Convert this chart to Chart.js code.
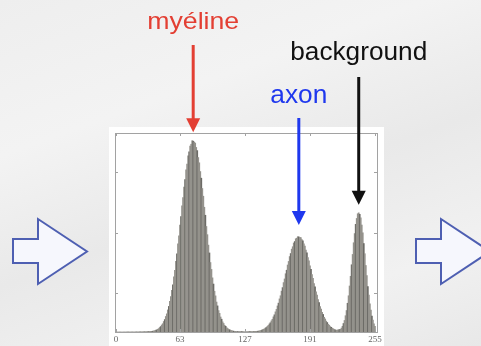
<!DOCTYPE html>
<html>
<head>
<meta charset="utf-8">
<script src="https://cdn.jsdelivr.net/npm/chart.js@4/dist/chart.umd.min.js"></script>
<style>
    html, body { margin: 0; padding: 0; overflow: hidden; }
    body {
        width: 481px; height: 346px;
        background: linear-gradient(160deg, #eeeeee 0%, #f3f3f3 30%, #e9e9e9 55%, #f1f1f1 80%, #e8e8e8 100%);
    }
    #wrap { position: relative; width: 481px; height: 346px; }
</style>
</head>
<body>
<div id="wrap"><canvas id="histo"></canvas></div>
<script>
// grey level histogram (0..255), counts
const counts = [
    0, 0, 0, 0, 0, 0, 0, 0, 0, 0, 0, 0, 0, 0, 0, 0,
    0, 0, 0, 0, 1, 1, 1, 2, 2, 2, 3, 3, 4, 4, 5, 6,
    7, 8, 10, 11, 13, 17, 21, 30, 34, 45, 56, 74, 90, 116, 137, 174,
    206, 257, 301, 366, 424, 509, 588, 691, 783, 914, 1022, 1171, 1296, 1461, 1595, 1772,
    1915, 2094, 2230, 2405, 2528, 2688, 2784, 2921, 2987, 3085, 3114, 3172, 3165, 3150, 3133, 3061,
    3008, 2893, 2806, 2661, 2551, 2380, 2252, 2069, 1936, 1750, 1614, 1441, 1311, 1152, 1038, 898,
    795, 676, 599, 497, 433, 355, 309, 249, 212, 168, 141, 111, 94, 71, 58, 43,
    36, 28, 22, 17, 13, 11, 10, 9, 8, 7, 6, 6, 5, 5, 4, 4,
    4, 4, 5, 5, 6, 6, 7, 8, 9, 10, 11, 12, 14, 17, 22, 27,
    35, 44, 51, 64, 75, 93, 110, 133, 153, 185, 211, 251, 285, 334, 375, 432,
    479, 549, 601, 678, 736, 819, 880, 966, 1025, 1111, 1170, 1251, 1301, 1374, 1414, 1476,
    1500, 1546, 1556, 1581, 1577, 1570, 1565, 1533, 1512, 1461, 1426, 1359, 1314, 1236, 1182, 1097,
    1038, 952, 891, 805, 747, 665, 611, 538, 488, 423, 382, 326, 291, 244, 216, 180,
    157, 129, 112, 90, 77, 62, 53, 42, 35, 27, 33, 35, 42, 44, 65, 95,
    141, 191, 270, 356, 477, 601, 763, 924, 1115, 1286, 1480, 1632, 1786, 1883, 1961, 1976,
    1952, 1893, 1774, 1645, 1467, 1298, 1103, 934, 752, 611, 468, 364, 263, 197, 136, 96
];
const levels = counts.map((c, i) => i);
const xTicks = [0, 63, 127, 191, 255];
const yTicks = [650, 1650, 2650];

// peaks that are pointed at
const peakLabels = ['myéline', 'axon', 'background'];
const peakLevels = [76, 180, 239];
const peakColors = ['#e33f33', '#1f38ee', '#111111'];

// text / arrow layout for each label
const labelLayout = [
    { baseline: 29, width: 92, size: 24, lineTop: 45, gap: 9 },
    { baseline: 103, width: 57, size: 26, lineTop: 118, gap: 12 },
    { baseline: 60, width: 137, size: 25, lineTop: 77, gap: 8 }
];

const framePlugin = {
    id: 'frame',
    beforeDraw (chart) {
        const ctx = chart.ctx;
        ctx.save();
        ctx.fillStyle = '#ffffff';
        ctx.fillRect(109, 127, 275, 219);
        ctx.restore();
    },
    afterDatasetsDraw (chart) {
        const { ctx, chartArea: a, scales } = chart;
        ctx.save();
        ctx.strokeStyle = '#a2a2a2';
        ctx.lineWidth = 1;
        ctx.strokeRect(Math.round(a.left) + 0.5, Math.round(a.top) + 0.5,
            Math.round(a.right - a.left), Math.round(a.bottom - a.top));
        ctx.beginPath();
        xTicks.forEach(v => {
            const px = Math.round(scales.x.getPixelForValue(v)) + 0.5;
            ctx.moveTo(px, a.bottom); ctx.lineTo(px, a.bottom - 3);
            ctx.moveTo(px, a.top); ctx.lineTo(px, a.top + 3);
        });
        yTicks.forEach(v => {
            const py = Math.round(scales.y.getPixelForValue(v)) + 0.5;
            ctx.moveTo(a.left, py); ctx.lineTo(a.left + 3, py);
            ctx.moveTo(a.right, py); ctx.lineTo(a.right - 3, py);
        });
        ctx.stroke();
        ctx.restore();
    },
    afterDraw (chart) {
        const { ctx, scales } = chart;
        ctx.save();
        // labels + arrows
        peakLabels.forEach((txt, i) => {
            const l = labelLayout[i];
            const px = scales.x.getPixelForValue(peakLevels[i]);
            const tip = scales.y.getPixelForValue(counts[peakLevels[i]]) - l.gap;
            ctx.font = l.size + 'px "Liberation Sans", Arial, sans-serif';
            const w = ctx.measureText(txt).width;
            ctx.save();
            ctx.translate(px, l.baseline);
            ctx.scale(l.width / w, 1);
            ctx.fillStyle = peakColors[i];
            ctx.textAlign = 'center';
            ctx.textBaseline = 'alphabetic';
            ctx.fillText(txt, 0, 0);
            ctx.restore();

            ctx.strokeStyle = peakColors[i];
            ctx.fillStyle = peakColors[i];
            ctx.lineWidth = 3;
            ctx.beginPath();
            ctx.moveTo(px, l.lineTop);
            ctx.lineTo(px, tip - 12);
            ctx.stroke();
            ctx.beginPath();
            ctx.moveTo(px - 7, tip - 14);
            ctx.lineTo(px + 7, tip - 14);
            ctx.lineTo(px, tip);
            ctx.closePath();
            ctx.fill();
        });
        // outlined block arrows either side
        const blockArrow = (x0) => {
            ctx.beginPath();
            ctx.moveTo(x0, 239);
            ctx.lineTo(x0 + 25, 239);
            ctx.lineTo(x0 + 25, 219);
            ctx.lineTo(x0 + 74, 251.5);
            ctx.lineTo(x0 + 25, 284);
            ctx.lineTo(x0 + 25, 263);
            ctx.lineTo(x0, 263);
            ctx.closePath();
            ctx.fillStyle = '#f6f7fd';
            ctx.fill();
            ctx.strokeStyle = '#4e5fb2';
            ctx.lineWidth = 2;
            ctx.stroke();
        };
        blockArrow(13);
        blockArrow(416);
        ctx.restore();
    }
};

new Chart(document.getElementById('histo'), {
    type: 'bar',
    data: {
        datasets: [{
            data: levels.map((lv, i) => ({ x: lv, y: counts[i] })),
            backgroundColor: ctx => ctx.dataIndex % 4 === 0 ? '#6c6b66' : '#94928c',
            borderWidth: 0,
            barPercentage: 1,
            categoryPercentage: 1
        }]
    },
    options: {
        responsive: true,
        maintainAspectRatio: false,
        animation: false,
        layout: { padding: { left: 115, right: 104, top: 133, bottom: 0 } },
        plugins: {
            legend: { display: false },
            tooltip: { enabled: false }
        },
        scales: {
            x: {
                type: 'linear',
                offset: false,
                min: -1,
                max: 257,
                grid: { display: false, drawTicks: false, offset: false },
                border: { display: false },
                afterBuildTicks: scale => { scale.ticks = xTicks.map(v => ({ value: v })); },
                afterFit: scale => { scale.height = 14; },
                ticks: {
                    padding: 2,
                    color: '#666666',
                    font: { family: '"Liberation Serif", "Times New Roman", serif', size: 9 },
                    maxRotation: 0,
                    autoSkip: false
                }
            },
            y: {
                display: false,
                min: 0,
                max: 3300
            }
        }
    },
    plugins: [framePlugin]
});
</script>
</body>
</html>
